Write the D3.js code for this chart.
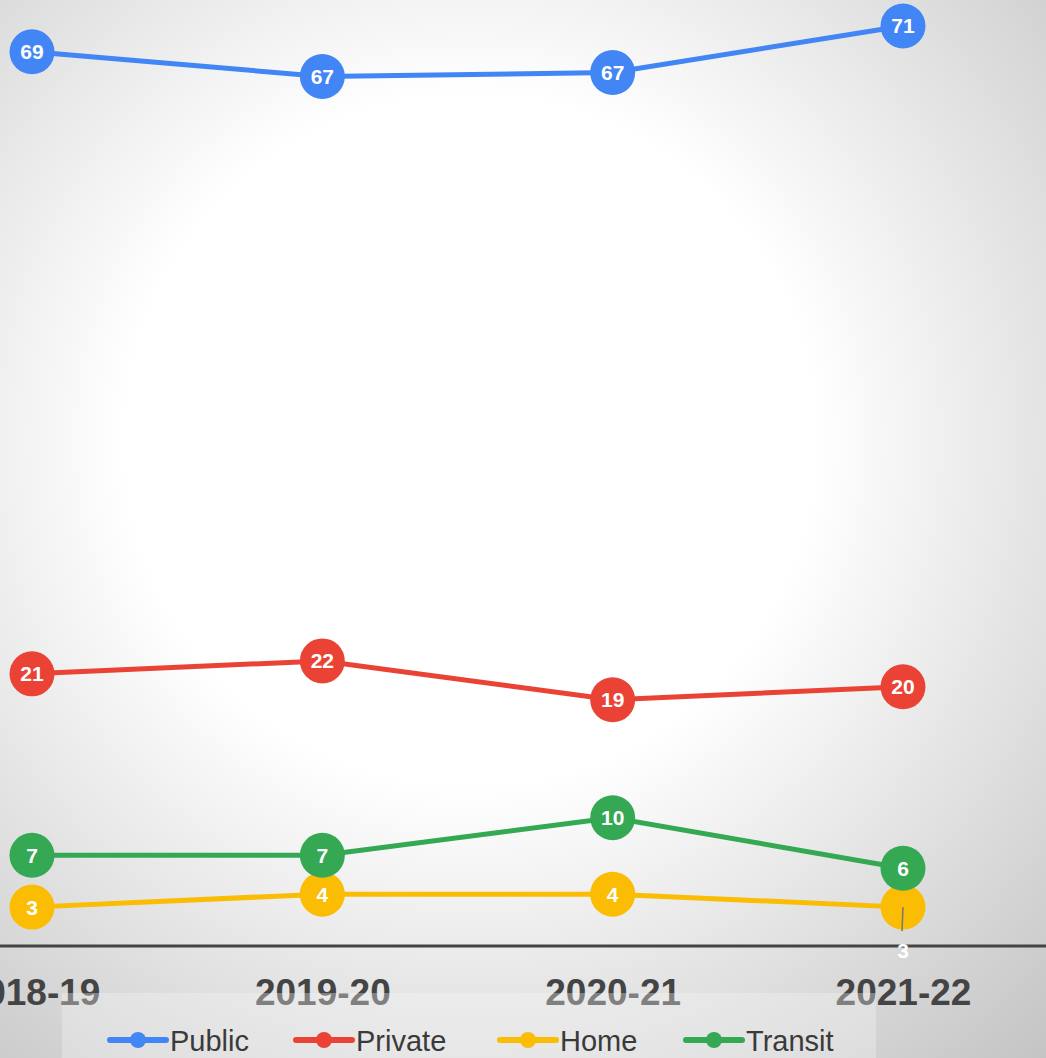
<!DOCTYPE html>
<html>
<head>
<meta charset="utf-8">
<script src="https://cdn.jsdelivr.net/npm/d3@7"></script>
<style>
  html, body { margin: 0; padding: 0; overflow: hidden; }
  svg { display: block; font-family: "Liberation Sans", Arial, sans-serif; }
</style>
</head>
<body>
<svg id="chart"></svg>
<script>
const years = ["2018-19", "2019-20", "2020-21", "2021-22"]
const publicVals = [69, 67.1, 67.4, 71]
const privateVals = [21, 22, 19, 20]
const homeVals = [3, 4, 4, 3]
const transitVals = [7, 7, 9.9, 6]
const seriesNames = ["Public", "Private", "Home", "Transit"]
const seriesColors = ["#4285f4", "#ea4335", "#fbbc04", "#34a853"]

const width = 1046
const height = 1058
const radius = 22.5

const series = [publicVals, privateVals, homeVals, transitVals].map((vals, i) => ({
    name: seriesNames[i],
    color: seriesColors[i],
    values: vals.map((v, j) => ({ year: years[j], value: v }))
}))

const svg = d3.select("#chart")
    .attr("width", width)
    .attr("height", height)

// background glow
const defs = svg.append("defs")
const grad = defs.append("radialGradient")
    .attr("id", "bg")
    .attr("gradientUnits", "userSpaceOnUse")
    .attr("cx", 470).attr("cy", 440).attr("r", 860)
grad.append("stop").attr("offset", 0).attr("stop-color", "#ffffff")
grad.append("stop").attr("offset", 0.4).attr("stop-color", "#ffffff")
grad.append("stop").attr("offset", 1).attr("stop-color", "#c2c2c2")

svg.append("rect")
    .attr("width", width).attr("height", height)
    .attr("fill", "url(#bg)")

const x = d3.scalePoint().domain(years).range([32, 903])
const y = d3.scaleLinear().domain([0, 73]).range([946, 0])

// x axis
const xAxis = svg.append("g")
    .attr("transform", `translate(0,${y(0)})`)
    .call(d3.axisBottom(x).tickSize(0).tickPadding(33))
xAxis.select(".domain").remove()
xAxis.append("line")
    .attr("x1", 0).attr("x2", width)
    .attr("stroke", "#444").attr("stroke-width", 3)
xAxis.selectAll(".tick text")
    .attr("fill", "#444")
    .attr("font-size", 37)
    .attr("font-weight", "bold")
    .attr("font-family", "Liberation Sans, Arial, sans-serif")

const line = d3.line()
    .x(d => x(d.year))
    .y(d => y(d.value))

const groups = svg.selectAll(".series")
    .data(series)
    .join("g")
    .attr("class", "series")

groups.append("path")
    .attr("d", d => line(d.values))
    .attr("fill", "none")
    .attr("stroke", d => d.color)
    .attr("stroke-width", 5)

groups.selectAll("circle")
    .data(d => d.values.map(v => ({ ...v, color: d.color, name: d.name })))
    .join("circle")
    .attr("cx", d => x(d.year))
    .attr("cy", d => y(d.value))
    .attr("r", radius)
    .attr("fill", d => d.color)

// the last Home point is too crowded, its label goes below with a leader
const isOutside = d => d.name === "Home" && d.year === "2021-22"

groups.selectAll("line.leader")
    .data(d => d.values.map(v => ({ ...v, name: d.name })).filter(isOutside))
    .join("line")
    .attr("class", "leader")
    .attr("x1", d => x(d.year)).attr("y1", d => y(d.value))
    .attr("x2", d => x(d.year) - 1).attr("y2", d => y(d.value) + 24)
    .attr("stroke", "#777").attr("stroke-width", 1.5)

groups.selectAll("text")
    .data(d => d.values.map(v => ({ ...v, name: d.name })))
    .join("text")
    .attr("x", d => x(d.year))
    .attr("y", d => isOutside(d) ? y(d.value) + 51 : y(d.value) + 7.5)
    .attr("text-anchor", "middle")
    .attr("fill", "#fff")
    .attr("font-size", 21)
    .attr("font-weight", "bold")
    .text(d => d3.format(".0f")(d.value))

// legend
const legend = svg.append("g")
legend.append("rect")
    .attr("x", 62).attr("y", 993)
    .attr("width", 814).attr("height", 70)
    .attr("fill", "rgba(245,245,245,0.34)")

const legendX = [110, 296, 500, 686]
const items = legend.selectAll(".item")
    .data(series)
    .join("g")
    .attr("class", "item")
    .attr("transform", (d, i) => `translate(${legendX[i]},1040)`)

items.append("line")
    .attr("x1", 0).attr("x2", 56)
    .attr("stroke", d => d.color)
    .attr("stroke-width", 6)
    .attr("stroke-linecap", "round")
items.append("circle")
    .attr("cx", 28).attr("r", 8)
    .attr("fill", d => d.color)
items.append("text")
    .attr("x", 60).attr("y", 11)
    .attr("fill", "#3a3a3a")
    .attr("font-size", 29)
    .text(d => d.name)
</script>
</body>
</html>
